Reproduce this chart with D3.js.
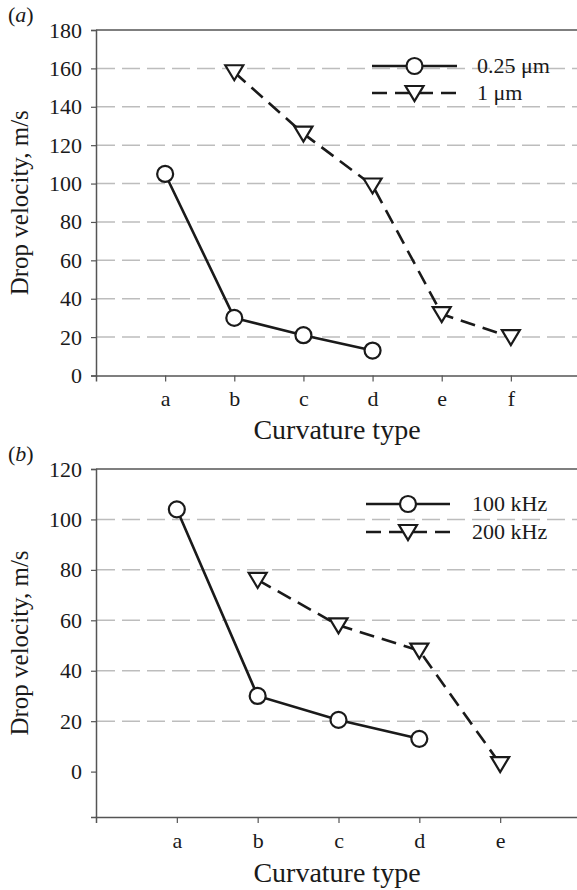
<!DOCTYPE html>
<html><head><meta charset="utf-8">
<script src="https://cdn.jsdelivr.net/npm/d3@7"></script>
<style>body{margin:0;background:#fff}svg{display:block}text{font-family:"Liberation Serif","Times New Roman",serif;fill:#1a1a1a}</style>
</head><body>
<svg id="c" width="577" height="890"></svg>
<script>
// Panel (a)
const catsA = ["a","b","c","d","e","f"];
const a025 = [105, 30, 21, 13];            // a..d
const a1um = [null, 158, 126, 99, 32, 20]; // b..f
const ticksA = [0,20,40,60,80,100,120,140,160,180];
// Panel (b)
const catsB = ["a","b","c","d","e"];
const b100 = [104, 30, 20.5, 13];          // a..d
const b200 = [null, 76, 58, 48, 3];        // b..e
const ticksB = [0,20,40,60,80,100,120];

const svg = d3.select("#c");
const FF = "'Liberation Serif','Times New Roman',serif";

function panel(o){
  const g = svg.append("g");
  const x = d3.scaleLinear().domain([0, o.cats.length+1]).range([96, o.xRight]);
  const y = d3.scaleLinear().domain(o.ydom).range([o.yBottom, o.yTop]);
  // gridlines
  g.selectAll(".grid").data(o.ticks.filter(t=>t>0 && t<o.ydom[1])).enter().append("line")
    .attr("x1",97).attr("x2",577).attr("y1",d=>y(d)).attr("y2",d=>y(d))
    .attr("stroke","#bdbdbd").attr("stroke-width",1.5).attr("stroke-dasharray","18,7");
  // top border
  g.append("line").attr("x1",96).attr("x2",577).attr("y1",o.yTop).attr("y2",o.yTop)
    .attr("stroke","#555").attr("stroke-width",1.5);
  // y axis
  const ya = g.append("g").attr("transform","translate(96,0)")
    .call(d3.axisLeft(y).tickValues(o.ticks).tickSize(5).tickPadding(9));
  ya.select(".domain").attr("stroke","#555").attr("stroke-width",1.5);
  ya.selectAll(".tick line").attr("stroke","#555").attr("stroke-width",1.2);
  ya.selectAll("text").style("font-size","22px").style("font-family",FF).attr("fill","#1a1a1a");
  // x axis
  const xa = g.append("g").attr("transform",`translate(0,${o.yBottom})`)
    .call(d3.axisBottom(x).tickValues(o.cats.map((c,i)=>i+1)).tickFormat((d)=>o.cats[d-1]).tickSize(6).tickPadding(9));
  xa.select(".domain").attr("stroke","#555").attr("stroke-width",1.5);
  xa.selectAll(".tick line").attr("stroke","#555").attr("stroke-width",1.2);
  xa.selectAll("text").style("font-size","22px").style("font-family",FF).attr("fill","#1a1a1a");
  // titles
  g.append("text").attr("x",337).attr("y",o.xTitleY).attr("text-anchor","middle")
    .style("font-size","28px").text("Curvature type");
  g.append("text").attr("transform",`translate(28,${(o.yTop+o.yBottom)/2}) rotate(-90)`)
    .attr("text-anchor","middle").style("font-size","25px").text("Drop velocity, m/s");
  const pl = g.append("text").attr("x",8).attr("y",o.yTop-8).style("font-size","22px");
  pl.append("tspan").text("(");
  pl.append("tspan").style("font-style","italic").text(o.label);
  pl.append("tspan").text(")");

  const tri = "M-9,-7L9,-7L0,8Z";
  function series(vals, dash, marker){
    const pts = vals.map((v,i)=>({i:i+1,v})).filter(d=>d.v!==null);
    g.append("path").datum(pts)
      .attr("d", d3.line().x(d=>x(d.i)).y(d=>y(d.v)))
      .attr("fill","none").attr("stroke","#1a1a1a").attr("stroke-width",2.6)
      .attr("stroke-dasharray", dash ? "15,8" : null);
    const m = g.selectAll(null).data(pts).enter();
    if(marker==="c"){
      m.append("circle").attr("cx",d=>x(d.i)).attr("cy",d=>y(d.v)).attr("r",8)
        .attr("fill","#fff").attr("stroke","#1a1a1a").attr("stroke-width",2.2);
    } else {
      m.append("path").attr("d",tri).attr("transform",d=>`translate(${x(d.i)},${y(d.v)})`)
        .attr("fill","#fff").attr("stroke","#1a1a1a").attr("stroke-width",2.2);
    }
  }
  series(o.s1, false, "c");
  series(o.s2, true, "t");

  // legend
  const L = o.legend;
  g.append("line").attr("x1",L.x1).attr("x2",L.x2).attr("y1",L.y1).attr("y2",L.y1)
    .attr("stroke","#1a1a1a").attr("stroke-width",2.6);
  g.append("circle").attr("cx",(L.x1+L.x2)/2).attr("cy",L.y1).attr("r",8)
    .attr("fill","#fff").attr("stroke","#1a1a1a").attr("stroke-width",2.2);
  g.append("line").attr("x1",L.x1).attr("x2",L.x2).attr("y1",L.y2).attr("y2",L.y2)
    .attr("stroke","#1a1a1a").attr("stroke-width",2.6).attr("stroke-dasharray","15,8");
  g.append("path").attr("d",tri).attr("transform",`translate(${(L.x1+L.x2)/2},${L.y2})`)
    .attr("fill","#fff").attr("stroke","#1a1a1a").attr("stroke-width",2.2);
  g.append("text").attr("x",L.tx).attr("y",L.y1+7).style("font-size","22px").text(o.names[0]);
  g.append("text").attr("x",L.tx).attr("y",L.y2+7).style("font-size","22px").text(o.names[1]);
}

panel({cats:catsA, ydom:[0,180], ticks:ticksA, yTop:30, yBottom:375.5, xRight:580,
  s1:a025, s2:a1um, label:"a", xTitleY:439, names:["0.25 μm","1 μm"],
  legend:{x1:372,x2:457,y1:66,y2:93,tx:477}});
panel({cats:catsB, ydom:[-18,120], ticks:ticksB, yTop:469, yBottom:817, xRight:581,
  s1:b100, s2:b200, label:"b", xTitleY:882, names:["100 kHz","200 kHz"],
  legend:{x1:366,x2:450,y1:504,y2:532,tx:472}});
</script>
</body></html>
